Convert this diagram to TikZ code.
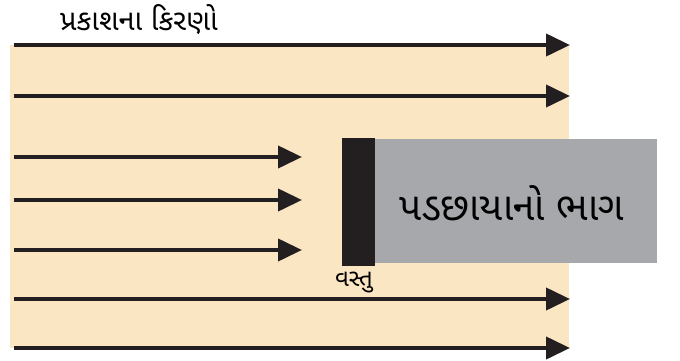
\documentclass[tikz,border=0pt]{standalone}
\usepackage{fontspec}
\newfontfamily\guj[Script=Gujarati]{Noto Sans Gujarati UI}
\usetikzlibrary{arrows.meta}
\definecolor{beige}{HTML}{FAE6C3}
\definecolor{shadowgray}{HTML}{A7A8AB}
\definecolor{ink}{HTML}{231F20}
\begin{document}
\begin{tikzpicture}[x=1pt,y=-1pt,
  ray/.style={draw=ink,line width=4pt,-{Triangle[length=24pt,width=22pt]}}]
\useasboundingbox (0,0) rectangle (680,361);
\fill[beige] (10,45) rectangle (569,348);
\fill[shadowgray] (374,139) rectangle (657,263);
\fill[ink] (342,138) rectangle (375,266);
\coordinate (s1) at (14,45);  \coordinate (e1) at (570,45);
\coordinate (s2) at (14,96);  \coordinate (e2) at (570,96);
\coordinate (s3) at (14,157); \coordinate (e3) at (302,157);
\coordinate (s4) at (14,200); \coordinate (e4) at (302,200);
\coordinate (s5) at (14,250); \coordinate (e5) at (302,250);
\coordinate (s6) at (14,299); \coordinate (e6) at (570,299);
\coordinate (s7) at (14,348); \coordinate (e7) at (570,348);
\foreach \i in {1,...,7} \draw[ray] (s\i) -- (e\i);
\node (title) at (139,20) {\guj\fontsize{29}{34}\selectfont પ્રકાશના કિરણો};
\node (shadow) at (512,203) {\guj\fontsize{39}{46}\selectfont પડછાયાનો ભાગ};
\node (obj) at (354,282) {\guj\fontsize{24}{28}\selectfont વસ્તુ};
\end{tikzpicture}
\end{document}
